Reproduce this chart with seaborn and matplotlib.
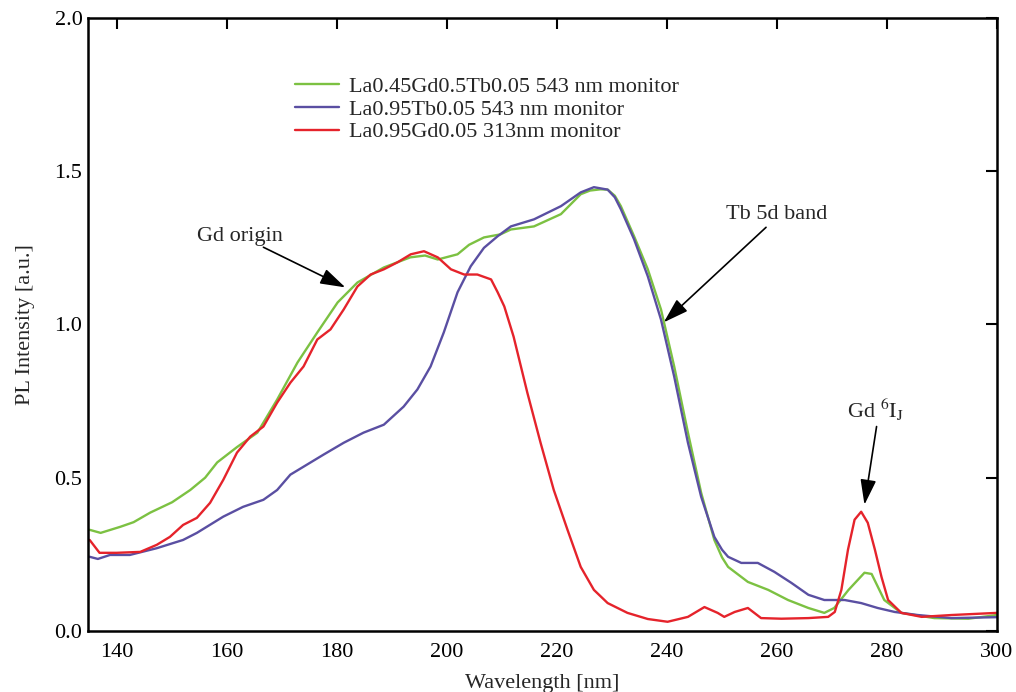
import numpy as np
import pandas as pd
import matplotlib
matplotlib.use("Agg")
import matplotlib.pyplot as plt
import seaborn as sns

# --- data (wavelength in nm, PL intensity in a.u.) ---
green_wl = [135, 137, 140.6, 143, 146, 150, 153.3, 156, 158.2, 161.8, 165.5, 169.1,
            172.8, 176.4, 180.1, 183.7, 188.5, 193.3, 196, 198.3, 201.9, 204, 206.7,
            209.7, 211.6, 215.8, 220.7, 224.3, 226, 227.9, 229.2, 230.5, 231.6, 234,
            236.5, 238.9, 241.3, 243.8, 246.2, 248.6, 250, 251.1, 254.7, 258.4, 262,
            265.7, 268.6, 270.4, 273, 275.9, 277.2, 279.5, 282.6, 288.6, 294.8, 300]
green_pl = [0.33, 0.32, 0.34, 0.355, 0.386, 0.42, 0.46, 0.50, 0.55, 0.60, 0.647, 0.755,
            0.876, 0.974, 1.072, 1.137, 1.186, 1.219, 1.225, 1.212, 1.229, 1.26, 1.284,
            1.294, 1.31, 1.32, 1.36, 1.425, 1.437, 1.441, 1.44, 1.42, 1.386, 1.288,
            1.18, 1.049, 0.863, 0.647, 0.451, 0.297, 0.24, 0.209, 0.160, 0.134, 0.101,
            0.075, 0.059, 0.075, 0.134, 0.19, 0.186, 0.101, 0.059, 0.042, 0.04, 0.052]

blue_wl = [135, 136.5, 138.7, 142.3, 147.2, 152, 154.5, 159.3, 162.9, 166.6, 169.1, 171.5,
           173.9, 177.5, 181.2, 184.8, 188.5, 192.1, 194.6, 197, 199.4, 201.9, 204.3,
           206.7, 209.2, 211.6, 215.8, 220.7, 224.3, 226.7, 229.2, 230.5, 231.6, 234,
           236.5, 238.9, 241.3, 243.8, 246.2, 248.6, 250, 251.1, 253.5, 256.5, 259.5,
           262.6, 265.7, 268.6, 272.3, 275.3, 278.3, 281.4, 285.6, 291.7, 300]
blue_pl = [0.242, 0.235, 0.248, 0.248, 0.27, 0.297, 0.32, 0.373, 0.405, 0.428, 0.46, 0.51,
           0.536, 0.575, 0.614, 0.647, 0.673, 0.732, 0.788, 0.863, 0.974, 1.105, 1.19,
           1.25, 1.288, 1.32, 1.343, 1.386, 1.431, 1.448, 1.44, 1.415, 1.376, 1.278,
           1.157, 1.016, 0.83, 0.614, 0.438, 0.307, 0.265, 0.242, 0.222, 0.222, 0.193,
           0.157, 0.118, 0.101, 0.101, 0.091, 0.075, 0.062, 0.052, 0.042, 0.045]

red_wl = [135, 136.8, 139.9, 144.2, 147.2, 149.6, 152, 154.5, 156.9, 159.3, 161.8, 164.2,
          166.6, 169.1, 171.5, 173.9, 176.4, 178.8, 181.2, 183.7, 186.1, 188.5, 191,
          193.4, 195.8, 198.3, 200.7, 203.1, 205.5, 208, 209.2, 210.4, 212.1, 214.6,
          217, 219.4, 221.9, 224.3, 226.7, 229.2, 232.8, 236.5, 240.1, 243.8, 246.8,
          249.2, 250.4, 252.3, 254.7, 257.1, 260.8, 265.7, 269.3, 270.5, 271.7, 272.9,
          274.1, 275.3, 276.5, 277.8, 279, 280.2, 282.6, 286.3, 291.7, 300]
red_pl = [0.297, 0.255, 0.255, 0.258, 0.281, 0.307, 0.346, 0.369, 0.418, 0.493, 0.582, 0.634,
          0.667, 0.745, 0.81, 0.863, 0.951, 0.984, 1.049, 1.124, 1.163, 1.18, 1.203,
          1.229, 1.239, 1.219, 1.18, 1.163, 1.163, 1.147, 1.105, 1.059, 0.96, 0.777,
          0.614, 0.46, 0.33, 0.209, 0.134, 0.091, 0.059, 0.039, 0.03, 0.046, 0.078,
          0.059, 0.046, 0.062, 0.075, 0.042, 0.04, 0.042, 0.046, 0.062, 0.134, 0.265,
          0.363, 0.389, 0.353, 0.265, 0.176, 0.101, 0.059, 0.046, 0.052, 0.059]

series_labels = ["La0.45Gd0.5Tb0.05 543 nm monitor",
                 "La0.95Tb0.05 543 nm monitor",
                 "La0.95Gd0.05 313nm monitor"]
series_colors = ["#7cc142", "#5a4fa2", "#e5232b"]

x_ticks = [140, 160, 180, 200, 220, 240, 260, 280, 300]
y_ticks = [0.0, 0.5, 1.0, 1.5, 2.0]

sns.set_theme(style="white")
plt.rcParams["font.family"] = ["Liberation Serif", "DejaVu Serif"]
plt.rcParams["mathtext.fontset"] = "stix"

fig = plt.figure(figsize=(10.16, 6.92), dpi=100)
ax = fig.add_axes([0.0866, 0.0882, 0.8947, 0.8858])

for wl, pl, lab, col in zip([green_wl, blue_wl, red_wl],
                            [green_pl, blue_pl, red_pl],
                            series_labels, series_colors):
    df = pd.DataFrame({"wl": wl, "pl": pl})
    sns.lineplot(data=df, x="wl", y="pl", ax=ax, color=col, lw=1.7, label=lab,
                 estimator=None)

ax.set_xlim(134.7, 300)
ax.set_ylim(0, 2.0)
ax.set_xticks(x_ticks)
ax.set_yticks(y_ticks)
ax.set_yticklabels([f"{v:.1f}" for v in y_ticks])
ax.tick_params(direction="in", top=True, right=True, length=8, width=1.5,
               labelsize=16, colors="black")
ax.tick_params(axis="x", pad=9)
ax.tick_params(axis="y", pad=4)
for sp in ax.spines.values():
    sp.set_linewidth(1.8)
    sp.set_color("black")

ax.set_xlabel("Wavelength [nm]", fontsize=16, labelpad=8)
ax.set_ylabel("PL Intensity [a.u.]", fontsize=16, labelpad=14)

leg = ax.legend(loc="upper left", bbox_to_anchor=(0.228, 0.905), frameon=False,
                fontsize=16, handlelength=1.95, handletextpad=0.45,
                labelspacing=0.1, borderpad=0, borderaxespad=0)

# annotations
arrow = dict(arrowstyle="-|>,head_length=0.7,head_width=0.22", color="black",
             lw=1.2, mutation_scale=22, shrinkA=0, shrinkB=0)
ax.text(162.4, 1.288, "Gd origin", fontsize=16, ha="center", va="center")
ax.annotate("", xy=(181.5, 1.121), xytext=(166.6, 1.252), arrowprops=arrow)
ax.text(260.0, 1.36, "Tb 5d band", fontsize=16, ha="center", va="center")
ax.annotate("", xy=(239.4, 1.007), xytext=(258.0, 1.317), arrowprops=arrow)
ax.text(277.9, 0.722, r"Gd $^{6}\mathrm{I}_{\mathrm{J}}$", fontsize=16,
        ha="center", va="center")
ax.annotate("", xy=(275.9, 0.412), xytext=(278.1, 0.667), arrowprops=arrow)

fig.savefig("out.png", dpi=100)
